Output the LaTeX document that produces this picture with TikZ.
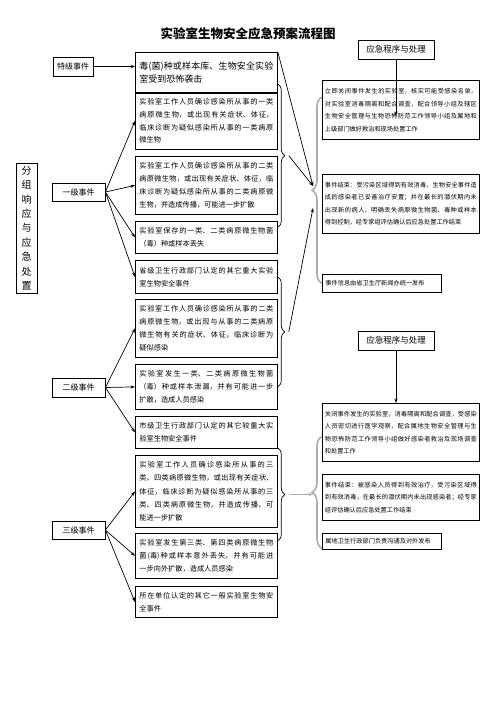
\documentclass[tikz,border=0pt]{standalone}
\usepackage{fontspec}
\setmainfont{Noto Sans CJK SC}
\XeTeXlinebreaklocale "zh"
\XeTeXlinebreakskip=0pt plus 1pt
\usetikzlibrary{positioning,calc,arrows.meta,decorations.pathreplacing}

\tikzset{
  lbox/.style={draw, line width=0.8pt, anchor=north west, text width=134pt, inner xsep=4pt, inner ysep=2pt, align=justify, font=\fontsize{7.2}{12.8}\selectfont},
  rbox/.style={draw, line width=0.8pt, anchor=north west, text width=152pt, inner xsep=2.5pt, inner ysep=2pt, align=justify, font=\fontsize{6.2}{12.5}\selectfont},
  sbox/.style={draw, line width=0.8pt, anchor=north west, text width=113pt, inner xsep=3pt, inner ysep=1pt, align=left, font=\fontsize{6.2}{8}\selectfont},
  kbox/.style={draw, line width=0.8pt, inner sep=0pt, font=\fontsize{8}{10}\selectfont},
  arr/.style={-{Stealth[length=4.5pt,width=3.2pt]}, line width=0.7pt},
  brc/.style={decorate, decoration={brace, amplitude=7pt}, line width=0.7pt},
  gbrc/.style={decorate, decoration={brace, amplitude=10pt}, draw=gray!65, line width=1.6pt}
}

\begin{document}
\begin{tikzpicture}[x=1pt,y=-1pt]
  \useasboundingbox (0,0) rectangle (496,702);
  \node[font=\fontsize{12.5}{15}\selectfont\bfseries] (title) at (248,34) {实验室生物安全应急预案流程图};

  % Levels
  \node[kbox, minimum width=21pt, minimum height=130pt, align=center, font=\fontsize{10}{14.4}\selectfont] (fz) at (26.5,228) {分\\组\\响\\应\\与\\应\\急\\处\\置};
  \node[kbox, minimum width=40pt, minimum height=19pt] (tj) at (73,66.5) {特级事件};
  \node[kbox, minimum width=53pt, minimum height=18pt] (yj) at (78.5,192) {一级事件};
  \node[kbox, minimum width=53pt, minimum height=19pt] (ej) at (78.5,387.5) {二级事件};
  \node[kbox, minimum width=53pt, minimum height=18pt] (sj) at (78.5,530) {三级事件};

  % Events
  \node[lbox, minimum height=41pt, font=\fontsize{9}{13}\selectfont] (du) at (135,52) {毒(菌)种或样本库、生物安全实验\linebreak 室受到恐怖袭击};
  \node[lbox, minimum height=57pt] (a1) at (135,92) {实验室工作人员确诊感染所从事的一类\linebreak 病原微生物，或出现有关症状、体征，\linebreak 临床诊断为疑似感染所从事的一类病原\linebreak 微生物};
  \node[lbox, minimum height=58pt] (a2) at (135,156) {实验室工作人员确诊感染所从事的二类\linebreak 病原微生物，或出现有关症状、体征，临\linebreak 床诊断为疑似感染所从事的二类病原微\linebreak 生物，并造成传播，可能进一步扩散};
  \node[lbox, minimum height=32pt] (a3) at (135,221) {实验室保存的一类、二类病原微生物菌\linebreak （毒）种或样本丢失};
  \node[lbox, minimum height=33pt] (a4) at (135,260) {省级卫生行政部门认定的其它重大实验\linebreak 室生物安全事件};
  \node[lbox, minimum height=58pt] (b1) at (135,299) {实验室工作人员确诊感染所从事的二类\linebreak 病原微生物，或出现与从事的二类病原\linebreak 微生物有关的症状、体征，临床诊断为\linebreak 疑似感染};
  \node[lbox, minimum height=45pt] (b2) at (135,364) {实验室发生一类、二类病原微生物菌\linebreak （毒）种或样本泄漏，并有可能进一步\linebreak 扩散，造成人员感染};
  \node[lbox, minimum height=32pt] (b3) at (135,416) {市级卫生行政部门认定的其它较重大实\linebreak 验室生物安全事件};
  \node[lbox, minimum height=72pt, font=\fontsize{7.2}{13.4}\selectfont] (c1) at (135,455) {实验室工作人员确诊感染所从事的三\linebreak 类、四类病原微生物，或出现有关症状、\linebreak 体征，临床诊断为疑似感染所从事的三\linebreak 类、四类病原微生物，并造成传播，可\linebreak 能进一步扩散};
  \node[lbox, minimum height=45pt] (c2) at (135,533) {实验室发生第三类、第四类病原微生物\linebreak 菌(毒)种或样本意外丢失，并有可能进\linebreak 一步向外扩散，造成人员感染};
  \node[lbox, minimum height=31pt] (c3) at (135,586) {所在单位认定的其它一般实验室生物安\linebreak 全事件};

  % Procedures
  \node[kbox, minimum width=76pt, minimum height=19pt, font=\fontsize{8.5}{10}\selectfont] (p1) at (396,49.5) {应急程序与处理};
  \node[rbox, minimum height=59pt] (r1) at (322,80) {立即关闭事件发生的实验室，核实可能受感染名单，\linebreak 对实验室消毒隔离和配合调查，配合领导小组及辖区\linebreak 生物安全管理与生物恐怖防范工作领导小组及属地和\linebreak 上级部门做好救治和现场处置工作};
  \node[rbox, minimum height=59pt] (r2) at (322,174) {事件结束：受污染区域得到有效消毒，生物安全事件造\linebreak 成的感染者已妥善治疗安置；并在最长的潜伏期内未\linebreak 出现新的病人，明确丢失病原微生物菌、毒种或样本\linebreak 得到控制，经专家组评估确认后应急处置工作结束};
  \node[sbox, minimum height=18pt] (r3) at (322,274) {事件信息由省卫生厅新闻办统一发布};
  \node[kbox, minimum width=76pt, minimum height=19pt, font=\fontsize{8.5}{10}\selectfont] (p2) at (396,340.5) {应急程序与处理};
  \node[rbox, minimum height=58pt] (r4) at (322,403) {关闭事件发生的实验室，消毒隔离和配合调查，受感染\linebreak 人员密切进行医学观察，配合属地生物安全管理与生\linebreak 物恐怖防范工作领导小组做好感染者救治及现场调查\linebreak 和处置工作};
  \node[rbox, minimum height=46pt] (r5) at (322,474) {事件结束：被感染人员得到有效治疗，受污染区域得\linebreak 到有效消毒，在最长的潜伏期内未出现感染者；经专家\linebreak 组评估确认后应急处置工作结束};
  \node[sbox, minimum height=16pt] (r6) at (322,533) {属地卫生行政部门负责沟通及对外发布};

  % Arrows from levels
  \draw[arr] (tj.east) -- (tj.east -| du.west);
  \foreach \n in {a1,a2,a3,a4} \draw[arr] (yj.east) -- (\n.west);
  \foreach \n in {b1,b2,b3} \draw[arr] (ej.east) -- (\n.west);
  \foreach \n in {c1,c2,c3} \draw[arr] (sj.east) -- (\n.west);

  % Braces
  \draw[brc] ($(a1.north east)+(0,-8)$) -- ($(a3.east)+(0,-10)$);
  \draw[brc] (a4.east) -- (b2.east);
  \draw[brc] ($(c1.north east)+(0,-7)$) -- ($(c2.east)+(0,-15)$);
  \draw[gbrc] (r3.west) -- ($(r1.north west)+(0,17)$);
  \draw[gbrc] ($(r6.west)+(0,7)$) -- ($(r4.west)+(0,4)$);
  \coordinate (atip) at ($(a1.north east)!0.5!(a3.east)+(11,-9)$);
  \coordinate (btip) at ($(a4.east)!0.5!(b2.east)+(11,0)$);
  \coordinate (ctip) at ($(c1.north east)!0.5!(c2.east)+(11,-11)$);
  \coordinate (ua) at (313,186);
  \coordinate (ub) at (313,208);
  \coordinate (lt) at (313,492);

  % Arrows to procedures
  \draw[arr] (du.north east) -- (ua);
  \draw[arr] (atip) -- (ua);
  \draw[arr] (btip) -- (ub);
  \draw[arr, draw=gray!65, line width=1.6pt] (ctip) -- (ctip -| lt);
  \draw[arr] (p1.south) -- ($(p1.south |- r1.center)+(0,6)$);
  \draw[arr] (p2.south) -- (p2.south |- r4.north);
\end{tikzpicture}
\end{document}
